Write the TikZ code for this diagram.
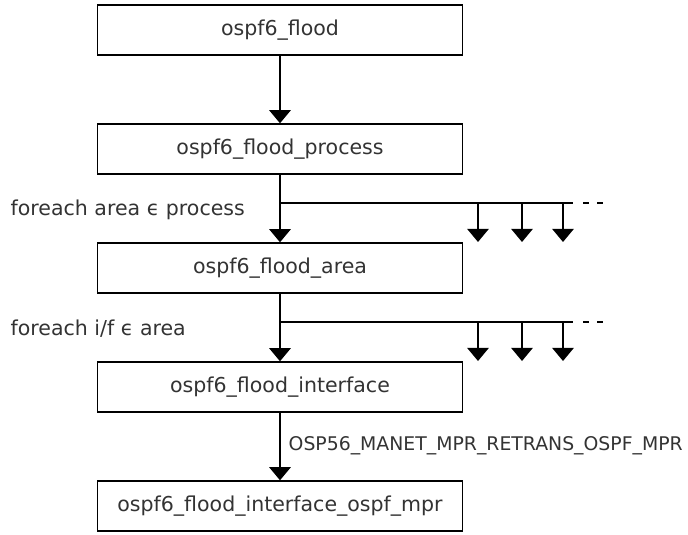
\documentclass[tikz,border=0pt]{standalone}
\usepackage{fontspec}
\setmainfont{DejaVu Sans}
\usepackage{tikz}
\usetikzlibrary{positioning, arrows.meta, calc}
\tikzset{>={Triangle[width=0.54cm,length=0.33cm]}}
\tikzset{fn/.style={draw, line width=1pt, minimum width=9.125cm, minimum height=1.25cm, inner sep=0pt}}
\tikzset{lbl/.style={anchor=base west, inner sep=0pt}}

\begin{document}
\begin{tikzpicture}[line width=1pt]
		\useasboundingbox (0,0) rectangle (17.2,-13.35);
		\begin{scope}[every node/.append style={font=\fontsize{14.6}{16}\selectfont, text=black!80}]
			\node[fn] (flood) at (7, -0.75) {ospf6\_flood};
			\node[fn] (process) at (7, -3.725) {ospf6\_flood\_process};
			\node[fn] (area) at (7, -6.7) {ospf6\_flood\_area};
			\node[fn] (iface) at (7, -9.675) {ospf6\_flood\_interface};
			\node[fn] (mpr) at (7, -12.65) {ospf6\_flood\_interface\_ospf\_mpr};
			\node[lbl] (forarea) at (0.25, -5.375) {foreach area ϵ process};
			\node[lbl] (forif) at (0.25, -8.375) {foreach i/f ϵ area};
			\node[lbl, font=\fontsize{13.4}{16}\selectfont] (retrans) at (7.2, -11.25) {OSP56\_MANET\_MPR\_RETRANS\_OSPF\_MPR};
		\end{scope}

		% branch points
		\coordinate (ba) at (7, -5.075);
		\coordinate (ea) at (14.325, -5.075);
		\coordinate (da) at (15.075, -5.075);
		\coordinate (bi) at (7, -8.05);
		\coordinate (ei) at (14.325, -8.05);
		\coordinate (di) at (15.075, -8.05);

		\draw[->] (flood) -- (process);
		\draw[->] (process) -- (area);
		\draw[->] (area) -- (iface);
		\draw[->] (iface) -- (mpr);
		\draw (ba) -- (ea) (bi) -- (ei);
		\draw[dash pattern=on 0.15cm off 0.2cm] ($(ea)+(0.25,0)$) -- (da);
		\draw[dash pattern=on 0.15cm off 0.2cm] ($(ei)+(0.25,0)$) -- (di);

		\foreach \i/\x in {1/11.95, 2/13.05, 3/14.075}{
			\coordinate (ua\i) at (\x, -5.075);
			\coordinate (va\i) at (\x, -6.05);
			\coordinate (ui\i) at (\x, -8.05);
			\coordinate (vi\i) at (\x, -9.025);
			\draw[->] (ua\i) -- (va\i);
			\draw[->] (ui\i) -- (vi\i);
		}
	\end{tikzpicture}
\end{document}
